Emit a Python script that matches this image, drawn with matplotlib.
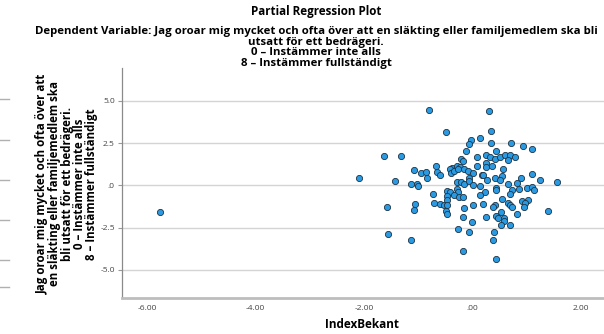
import matplotlib
matplotlib.use("Agg")
import matplotlib.pyplot as plt
from matplotlib.lines import Line2D

x_vals = [-0.80, 0.30, -0.49, 0.34, -0.03, 0.15, -0.07, 0.34, 0.71, 0.93,
          1.10, -0.12, 0.44, -1.63, -1.32, 0.09, 0.25, 0.33, 0.41, 0.51,
          0.61, 0.69, 0.79, 0.65, -0.20, -0.17, -0.67, -0.38, -0.28, -0.23,
          0.25, 0.26, 0.36, 0.09, -1.08, -0.94, -0.86, -0.65, -0.60, -0.42,
          -0.40, -0.34, -0.26, -0.15, -0.08, 0.01, 0.17, 0.19, 0.57, 0.55,
          1.11, -2.09, -1.43, -0.83, -1.14, -1.02, -1.00, -0.29, -0.20, -0.15,
          -0.07, -0.06, 0.02, 0.28, 0.42, 0.51, 0.66, 0.82, 0.90, 1.24,
          1.56, 0.15, 0.44, 0.44, 0.73, 0.86, 1.00, 1.10, 1.14, -0.28,
          -0.73, -0.46, -0.42, -0.47, -0.26, -0.33, -0.24, -0.18, 0.23, 0.15,
          0.69, -0.46, 0.55, 0.92, 1.03, 0.98, 0.96, 0.65, 0.69, 0.74,
          -1.05, -0.71, -0.60, -0.52, -0.47, -0.16, 0.02, 0.20, 0.42, 0.38,
          -1.57, -1.08, -0.49, -0.47, 0.82, 1.39, 0.53, -0.17, 0.25, 0.44,
          0.47, 0.59, 0.59, -0.01, 0.53, 0.69, -0.27, -0.07, 0.40, -1.56,
          -1.13, 0.39, -0.17, 0.44, -5.77]
y_vals = [4.44, 4.38, 3.13, 3.19, 2.68, 2.80, 2.44, 2.50, 2.52, 2.33,
          2.13, 2.01, 2.05, 1.73, 1.73, 1.67, 1.81, 1.66, 1.58, 1.69,
          1.81, 1.81, 1.67, 1.50, 1.54, 1.44, 1.14, 1.02, 1.14, 1.06,
          1.30, 1.06, 1.16, 1.16, 0.91, 0.73, 0.79, 0.81, 0.59, 0.94,
          0.71, 0.87, 0.94, 0.94, 0.87, 0.71, 0.63, 0.59, 0.94, 0.57,
          0.65, 0.41, 0.23, 0.43, 0.06, 0.06, -0.06, 0.18, 0.21, 0.06,
          0.45, 0.25, 0.00, 0.29, 0.43, 0.29, 0.10, 0.14, 0.45, 0.29,
          0.21, -0.06, -0.16, -0.28, -0.28, -0.22, -0.16, -0.12, -0.28, -0.24,
          -0.53, -0.34, -0.42, -0.61, -0.42, -0.59, -0.71, -0.71, -0.42, -0.55,
          -0.51, -0.85, -0.81, -0.91, -0.85, -1.07, -1.26, -1.05, -1.17, -1.28,
          -1.11, -1.05, -1.13, -1.17, -1.17, -1.32, -1.17, -1.13, -1.19, -1.28,
          -1.30, -1.48, -1.52, -1.68, -1.72, -1.54, -1.58, -1.86, -1.86, -1.82,
          -1.95, -1.95, -2.11, -2.19, -2.37, -2.37, -2.57, -2.74, -2.78, -2.86,
          -3.26, -3.22, -3.89, -4.34, -1.58]

x_ticks = [-6, -4, -2, 0, 2]
x_ticklabels = ["-6.00", "-4.00", "-2.00", ".00", "2.00"]
y_ticks = [-5, -2.5, 0, 2.5, 5]
y_ticklabels = ["-5.0", "-2.5", ".0", "2.5", "5.0"]

title = "Partial Regression Plot"
subtitle = ("Dependent Variable: Jag oroar mig mycket och ofta över att en släkting eller familjemedlem ska bli\n"
            "utsatt för ett bedrägeri.\n0 – Instämmer inte alls\n8 – Instämmer fullständigt")
ylabel = ("Jag oroar mig mycket och ofta över att\nen släkting eller familjemedlem ska\n"
          "bli utsatt för ett bedrägeri.\n0 – Instämmer inte alls\n8 – Instämmer fullständigt")
xlabel = "IndexBekant"

plt.rcParams['font.family'] = ['Open Sans', 'DejaVu Sans']

fig = plt.figure(figsize=(6.04, 3.34), dpi=100)
ax = fig.add_axes([121.7/604, 1 - 297.7/334, 1 - 121.7/604, (297.7 - 68)/334])
ax.set_xlim(-6.47, 2.43)
ax.set_ylim(-6.65, 6.94)

ax.scatter(x_vals, y_vals, s=20, facecolor="#2a9be3", edgecolor="#1d3344",
           linewidths=0.6, zorder=3)

ax.set_yticks(y_ticks)
ax.set_yticklabels(y_ticklabels)
ax.set_xticks(x_ticks)
ax.set_xticklabels(x_ticklabels)
ax.yaxis.grid(True, color="#d4d4d4", linewidth=1.0)
ax.set_axisbelow(True)
ax.tick_params(axis="y", length=3, width=0.8, color="#999999", labelsize=6,
               labelcolor="#444444", pad=2)
ax.tick_params(axis="x", length=0, labelsize=6, labelcolor="#444444", pad=5)

for s in ["top", "right"]:
    ax.spines[s].set_visible(False)
ax.spines["left"].set_color("#8a8a8a")
ax.spines["left"].set_linewidth(0.9)
ax.spines["bottom"].set_color("#bdbdbd")
ax.spines["bottom"].set_linewidth(2.0)

fig.text(316/604, 1 - 12/334, title, ha="center", va="center",
         fontsize=8.4, fontweight="bold")
fig.text(316/604, 1 - 26/334, subtitle, ha="center", va="top",
         fontsize=8.2, fontweight="bold", linespacing=0.96)
fig.text(67/604, 1 - 184/334, ylabel, ha="center", va="center", rotation=90,
         fontsize=8.3, fontweight="bold", linespacing=0.93, multialignment="center")
fig.text(362/604, 1 - 325/334, xlabel, ha="center", va="center",
         fontsize=8.5, fontweight="bold")

for yy in [99, 140, 180, 220, 260, 287]:
    fig.add_artist(Line2D([0, 9/604], [1 - yy/334, 1 - yy/334],
                          transform=fig.transFigure, color="#b0b0b0", linewidth=1.0))

fig.savefig("out.png", dpi=100)
